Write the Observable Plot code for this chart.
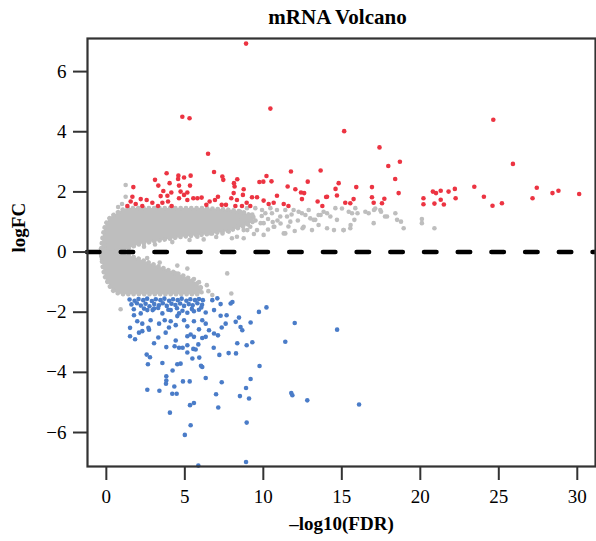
<!DOCTYPE html>
<html>
<head>
<meta charset="utf-8">
<script src="https://cdn.jsdelivr.net/npm/d3@7"></script>
<script src="https://cdn.jsdelivr.net/npm/@observablehq/plot@0.6"></script>
<style>
  html, body { margin: 0; padding: 0; background: #fff; }
  svg, svg text { font-family: "Liberation Serif", "Times New Roman", serif !important; }
</style>
</head>
<body>
<div id="chart"></div>
<script>
const titleText = "mRNA Volcano";
const xLabel = "–log10(FDR)";
const yLabel = "logFC";
const xTicks = [0, 5, 10, 15, 20, 25, 30];
const yTicks = [-6, -4, -2, 0, 2, 4, 6];

// up-regulated (red)
const upRegulated = [
[8.9,6.93],[4.84,4.5],[5.3,4.45],[10.45,4.77],[15.15,4.02],[24.65,4.4],[6.48,3.27],[25.9,2.93],[17.4,3.48],[17.96,2.86],[18.7,3.0],[18.4,2.43],[18.62,1.96],[13.65,2.71],[12.83,2.34],[12.4,1.98],[12.6,1.96],[12.46,1.76],[13.46,1.68],[13.76,1.53],[14.0,1.83],[14.6,2.1],[14.8,2.29],[14.69,1.88],[15.22,1.64],[15.54,1.62],[15.75,1.76],[15.92,2.16],[16.92,2.16],[16.92,1.82],[17.03,1.64],[17.56,1.62],[17.71,1.77],
[20.2,1.79],[20.2,1.59],[20.8,2.01],[21.0,1.96],[21.3,2.04],[20.9,1.61],[21.3,1.74],[21.5,1.58],[21.8,2.01],[22.2,2.1],[22.25,1.79],[23.44,2.17],[24.05,1.84],[24.6,1.54],[25.2,1.62],[27.15,1.79],[27.42,2.14],[28.42,1.96],[28.8,2.04],[30.12,1.93],
[3.84,2.62],[6.86,2.66],[4.59,2.54],[4.95,2.48],[5.37,2.54],[4.57,2.43],[7.39,2.51],[7.45,2.4],[3.1,2.4],[4.03,2.29],[3.31,2.21],[4.63,2.21],[5.33,2.21],[8.13,2.29],[8.34,2.42],[8.17,2.18],[9.75,2.33],[10.0,2.34],[10.2,2.53],[10.52,2.35],[11.76,2.68],[11.55,2.18],[1.72,2.16],[3.63,2.03],[4.14,1.98],[4.73,2.01],[5.16,1.98],[3.46,1.86],[3.89,1.87],[4.63,1.79],[5.16,1.73],[4.95,1.9],[1.66,1.84],[2.19,1.76],[2.57,1.73],[2.93,1.64],[1.55,1.68],[1.34,1.53],[1.87,1.6],[2.29,1.53],[3.29,1.53],[3.57,1.64],[3.93,1.68],[4.16,1.53],[5.54,1.79],[5.8,1.79],[6.07,1.81],[6.37,1.57],[6.58,1.68],[6.92,1.73],[7.11,1.84],[7.35,1.57],[7.62,1.57],[7.96,1.79],[8.11,1.96],[8.75,2.09],[8.7,1.9],[8.32,1.73],[8.22,1.53],[8.64,1.53],[9.17,1.53],[9.28,1.82],[9.6,1.82],[8.94,1.64],[10.02,1.71],[10.34,1.6],[10.66,1.64],[10.87,1.87],[11.3,1.6],[11.6,1.53],[12.04,2.09],[14.06,1.84]
];

// down-regulated (blue)
const downRegulated = [
[9.72,-1.99],[10.2,-1.84],[12.0,-2.36],[14.7,-2.58],[11.4,-2.98],[9.76,-3.79],[12.8,-4.93],[11.78,-4.69],[11.85,-4.76],[16.1,-5.07],[8.9,-6.98],[5.86,-7.1],[5.0,-6.08],[5.37,-5.76],[8.94,-5.67],[4.05,-5.34],[5.33,-5.09],[5.58,-5.02],[7.13,-5.17],[2.61,-4.58],[3.38,-4.61],[3.82,-4.13],[3.82,-4.27],[3.8,-4.38],[4.33,-4.47],[4.2,-4.71],[4.48,-4.71],[4.88,-4.3],[5.31,-4.3],[6.33,-4.19],[7.35,-4.33],[6.99,-4.73],[8.51,-4.79],[8.9,-4.52],[9.09,-4.87],[9.19,-4.22],
[2.57,-3.41],[2.78,-3.5],[2.65,-3.73],[3.57,-3.69],[4.22,-3.94],[4.52,-3.73],[4.73,-3.71],[5.16,-3.34],[5.48,-3.54],[5.92,-3.51],[6.03,-3.78],[6.11,-3.82],[7.2,-3.42],[7.79,-3.36],[8.26,-3.37],[6.84,-3.18],[3.82,-3.16],[4.35,-3.13],[4.63,-3.18],[4.86,-3.18],[5.16,-3.1],[5.54,-3.22],[5.69,-3.24],[3.04,-3.03],[3.31,-2.84],[4.42,-2.94],[8.34,-3.03],[8.94,-3.1],[9.3,-3.0],
[1.51,-2.8],[1.83,-2.9],[1.51,-2.52],[2.08,-2.68],[2.29,-2.63],[2.72,-2.58],[3.78,-2.68],[3.99,-2.51],[5.16,-2.8],[5.37,-2.74],[5.58,-2.82],[5.86,-3.07],[6.11,-2.86],[6.33,-2.82],[6.54,-2.6],[6.86,-2.71],[7.11,-2.77],[7.35,-2.51],[7.6,-2.38],[8.24,-2.32],[8.55,-2.49],[8.66,-2.6],[9.19,-2.34],[8.45,-2.18],[5.58,-2.3],[6.11,-2.27],[6.33,-2.38],[5.9,-2.57],[5.16,-2.47],[3.36,-2.38],[3.72,-2.27],[4.1,-2.3],[4.42,-2.43],[4.95,-2.27],[4.52,-2.13],[1.97,-2.3],[2.29,-2.38],[2.68,-2.52],[2.82,-2.27],
[1.76,-2.1],[2.19,-2.04],[2.61,-1.93],[3.04,-1.88],[3.57,-2.04],[4.1,-1.93],[4.63,-2.04],[5.16,-2.02],[5.58,-1.97],[6.33,-2.01],[6.86,-1.93],[7.28,-2.12],[7.66,-2.1],[6.75,-1.6],[7.07,-1.54],[7.28,-1.73],[7.92,-1.71],[8.03,-1.66],
[1.48,-1.58],[1.8,-1.62],[2.05,-1.56],[2.35,-1.6],[2.6,-1.55],[2.9,-1.63],[3.15,-1.57],[3.45,-1.6],[3.7,-1.55],[4.0,-1.62],[4.25,-1.57],[4.55,-1.6],[4.8,-1.55],[5.1,-1.62],[5.35,-1.57],[5.65,-1.6],[5.9,-1.56],[6.15,-1.6],
[1.6,-1.74],[1.95,-1.7],[2.2,-1.78],[2.5,-1.72],[2.75,-1.8],[3.05,-1.73],[3.35,-1.77],[3.6,-1.7],[3.85,-1.79],[4.15,-1.72],[4.4,-1.76],[4.7,-1.71],[4.95,-1.79],[5.25,-1.73],[5.5,-1.77],[5.8,-1.7],[6.1,-1.75],
[1.75,-1.9],[2.4,-1.88],[2.95,-1.93],[3.3,-1.86],[3.95,-1.92],[4.5,-1.87],[4.85,-1.95],[5.45,-1.89],[5.9,-1.92],[6.05,-1.84]
];

// not significant (gray), scattered points outside the dense core
const notSignificant = [
[1.23,2.23],[1.23,1.84],[1.0,1.6],[0.75,1.5],
[8.11,1.34],[8.54,1.34],[8.96,1.46],[9.49,1.46],[9.92,1.4],[10.13,1.29],[10.45,1.46],[10.55,1.29],[10.87,1.4],[11.08,1.18],[11.4,1.4],[11.51,1.18],[11.72,1.01],[11.93,1.4],[12.25,1.34],[12.46,1.29],[12.68,1.23],[12.89,1.4],[12.99,1.12],[13.31,1.07],[13.52,1.23],[13.84,1.34],[14.06,1.29],[14.27,1.18],[14.59,1.46],[14.69,1.07],[15.01,1.45],[15.44,1.34],[15.65,1.29],[15.86,1.46],[15.8,1.07],[15.12,0.73],[15.54,0.79],[16.5,1.34],[16.71,1.29],[17.13,1.45],[17.45,1.4],[17.88,1.18],[18.41,1.29],[18.52,1.07],[18.77,1.01],[18.94,0.79],[17.03,0.96],[14.06,0.79],[13.52,0.9],[13.1,0.73],[12.57,0.84],[11.4,0.62],[10.02,0.96],[9.6,0.73],[9.17,0.84],[8.75,0.73],[8.32,0.51],[8.75,0.46],[8.0,0.46],[10.02,0.57],[10.66,0.84],
[20.1,1.1],[20.1,0.96],[20.9,0.79],
[5.8,0.51],[6.65,0.62],[7.28,0.73],[7.8,0.68],[8.34,0.84],[8.98,0.73],[9.83,0.96],[10.7,0.84],[11.3,0.62],[12.5,0.79],[13.2,1.07],[13.65,1.23],[14.5,0.73],[15.1,0.73],[15.56,0.9],[16.0,1.29],[17.05,1.4],[17.5,1.34],[17.75,1.18],
[9.0,1.1],[9.3,1.25],[8.6,1.05],[8.9,0.95],[9.5,1.05],[10.3,1.1],[10.9,1.05],[11.8,1.25],[12.2,1.05],[7.4,0.62],[9.9,1.2],[10.6,1.0],[11.1,0.95],[11.6,0.85],[12.0,0.7],[9.4,0.6],[10.3,0.75],
[3.1,0.25],[4.2,0.33],[5.3,0.4],[6.2,0.42],[7.0,0.5],[2.4,0.18],
[4.52,-0.45],[5.16,-0.55],[4.41,-0.71],[5.58,-0.9],[6.0,-1.2],[7.7,-0.71],[6.75,-1.43],[7.96,-1.38],[0.91,-1.9],[6.4,-1.1],[5.9,-1.0],[6.5,-1.3],[3.4,-0.35],[2.6,-0.2]
];

// envelope of the dense gray cloud
const upperCloudX   = [-0.3, -0.2, -0.05, 0.15, 0.3, 0.6, 0.9, 1.2, 1.4, 2, 3, 4, 5, 6, 7, 8, 8.8, 9.4];
const upperCloudTop = [0.1, 0.5, 0.85, 1.05, 1.15, 1.25, 1.35, 1.42, 1.45, 1.45, 1.45, 1.45, 1.45, 1.45, 1.42, 1.38, 1.3, 1.15];
const upperCloudBot = [-0.1, -0.3, -0.3, -0.2, -0.1, 0, 0.02, 0.05, 0.1, 0.22, 0.33, 0.42, 0.5, 0.55, 0.62, 0.72, 0.85, 1.0];
const lowerCloudX   = [-0.3, -0.2, -0.05, 0.15, 0.3, 0.6, 0.9, 1.2, 2, 3, 4, 5, 5.7, 6.1];
const lowerCloudTop = [0.1, 0.2, 0.2, 0.1, 0.05, 0, -0.02, -0.08, -0.22, -0.42, -0.62, -0.82, -1.02, -1.22];
const lowerCloudBot = [-0.1, -0.5, -0.85, -1.05, -1.2, -1.35, -1.4, -1.42, -1.42, -1.42, -1.42, -1.42, -1.42, -1.38];

const upperCloud = upperCloudX.map((x, i) => ({x, y1: upperCloudBot[i], y2: upperCloudTop[i]}));
const lowerCloud = lowerCloudX.map((x, i) => ({x, y1: lowerCloudBot[i], y2: lowerCloudTop[i]}));

const serif = "Liberation Serif";
const GRAY = "#bebebe", RED = "#ec3442", BLUE = "#4a7cc8";
const txt = {fontFamily: serif, fill: "#000"};
const cloudStyle = {fill: GRAY, stroke: GRAY, strokeWidth: 4.6, strokeDasharray: "0.1,5.2", strokeLinecap: "round", curve: "monotone-x"};

const chart = Plot.plot({
  width: 596,
  height: 541,
  marginLeft: 87,
  marginRight: 1,
  marginTop: 38,
  marginBottom: 75,
  style: "font-family: 'Liberation Serif', serif; background: #fff; color: #000;",
  x: {domain: [-1.2, 31.16]},
  y: {domain: [-7.13, 7.1]},
  marks: [
    Plot.areaY(upperCloud, {x: "x", y1: "y1", y2: "y2", ...cloudStyle}),
    Plot.areaY(lowerCloud, {x: "x", y1: "y1", y2: "y2", ...cloudStyle}),
    Plot.dot(notSignificant, {x: d => d[0], y: d => d[1], r: 2.3, fill: GRAY}),
    Plot.dot(upRegulated, {x: d => d[0], y: d => d[1], r: 2.3, fill: RED}),
    Plot.dot(downRegulated, {x: d => d[0], y: d => d[1], r: 2.3, fill: BLUE}),
    Plot.ruleY([0], {stroke: "#000", strokeWidth: 4.5, strokeDasharray: "12.5,21.2", strokeLinecap: "round"}),
    Plot.frame({stroke: "#333", strokeWidth: 2.2}),
    Plot.axisX({ticks: xTicks, tickSize: 14, tickPadding: 9, fontSize: 19, label: null, stroke: "#333", strokeWidth: 2, ...txt}),
    Plot.axisY({ticks: yTicks, tickSize: 14, tickPadding: 7, fontSize: 19, label: null, stroke: "#333", strokeWidth: 2, ...txt}),
    Plot.text([titleText], {frameAnchor: "top", dx: -4, dy: -15, lineAnchor: "bottom", fontSize: 21, fontWeight: "bold", ...txt}),
    Plot.text([xLabel], {frameAnchor: "bottom", dy: 57, lineAnchor: "middle", fontSize: 19, fontWeight: "bold", ...txt}),
    Plot.text([yLabel], {frameAnchor: "left", dx: -69, rotate: -90, lineAnchor: "middle", fontSize: 19, fontWeight: "bold", ...txt})
  ]
});
document.getElementById("chart").appendChild(chart);
</script>
</body>
</html>
